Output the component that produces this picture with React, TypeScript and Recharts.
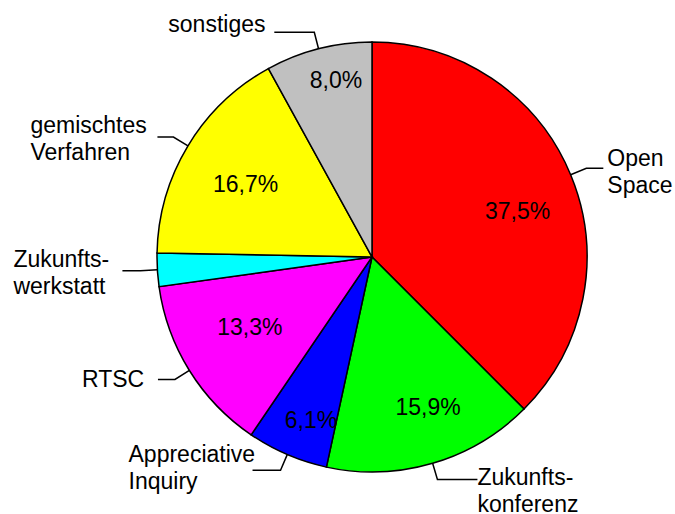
import { Cell, Pie, PieChart } from 'recharts';

const CATEGORIES = [
  'Open Space',
  'Zukunftskonferenz',
  'Appreciative Inquiry',
  'RTSC',
  'Zukunftswerkstatt',
  'gemischtes Verfahren',
  'sonstiges',
];
const NAME_LINES = [
  ['Open', 'Space'],
  ['Zukunfts-', 'konferenz'],
  ['Appreciative', 'Inquiry'],
  ['RTSC'],
  ['Zukunfts-', 'werkstatt'],
  ['gemischtes', 'Verfahren'],
  ['sonstiges'],
];
const SHARES = [37.5, 15.9, 6.1, 13.3, 2.5, 16.7, 8.0];
const COLORS = ['#ff0000', '#00ff00', '#0000ff', '#ff00ff', '#00ffff', '#ffff00', '#c0c0c0'];

// where the percent text sits: angle offset from the slice middle, fraction of the radius
const PCT_SPOT = [
  { da: -5, r: 0.71 },
  { da: 4.1, r: 0.745 },
  { da: 2.7, r: 0.81 },
  { da: -2, r: 0.655 },
  null,
  { da: 1, r: 0.68 },
  { da: -2.9, r: 0.84 },
];

// leader: horizontal run after the elbow, then offset of the text block from its end
const LEADERS = [
  { len: 17, dx: 4, dy: -2 },
  { len: 40, dx: 0, dy: 5 },
  { len: -28, dx: -124, dy: -8 },
  { len: -17, dx: -76, dy: 8 },
  { len: -18, dx: -109, dy: -4 },
  { len: -16, dx: -127, dy: -4 },
  { len: -40, dx: -106, dy: 0 },
];

const FONT = '"Liberation Sans", Arial, sans-serif';
const RAD = Math.PI / 180;

const data = CATEGORIES.map((name, i) => ({ name, value: SHARES[i] }));

const polar = (cx: number, cy: number, r: number, deg: number) => ({
  x: cx + r * Math.cos(-deg * RAD),
  y: cy + r * Math.sin(-deg * RAD),
});

function SliceLabel(props: any) {
  const { cx, cy, midAngle, outerRadius, index, value } = props;
  const spot = PCT_SPOT[index];
  const lead = LEADERS[index];
  const edge = polar(cx, cy, outerRadius, midAngle);
  const elbow = polar(cx, cy, outerRadius + 17, midAngle);
  const end = { x: elbow.x + lead.len, y: elbow.y };
  const pct = spot ? polar(cx, cy, outerRadius * spot.r, midAngle + spot.da) : null;
  return (
    <g>
      {pct && (
        <text x={pct.x} y={pct.y + 8} textAnchor="middle" fontSize={23} fontFamily={FONT} fill="#000">
          {`${value.toFixed(1).replace('.', ',')}%`}
        </text>
      )}
      <polyline
        points={`${edge.x},${edge.y} ${elbow.x},${elbow.y} ${end.x},${end.y}`}
        fill="none"
        stroke="#000"
        strokeWidth={1.5}
      />
      <text x={end.x + lead.dx} y={end.y + lead.dy} fontSize={23} fontFamily={FONT} fill="#000">
        {NAME_LINES[index].map((line, k) => (
          <tspan key={k} x={end.x + lead.dx} dy={k === 0 ? 0 : 27}>
            {line}
          </tspan>
        ))}
      </text>
    </g>
  );
}

export default function App() {
  return (
    <div style={{ width: 675, height: 514, background: '#fff' }}>
      <style>{'body{margin:0}'}</style>
      <PieChart width={675} height={514} margin={{ top: 0, right: 0, bottom: 0, left: 0 }}>
        <Pie
          data={data}
          dataKey="value"
          nameKey="name"
          cx={372}
          cy={257}
          outerRadius={215}
          startAngle={90}
          endAngle={-270}
          stroke="#000"
          strokeWidth={1.5}
          label={SliceLabel}
          labelLine={false}
          isAnimationActive={false}
        >
          {data.map((d, i) => (
            <Cell key={d.name} fill={COLORS[i]} />
          ))}
        </Pie>
      </PieChart>
    </div>
  );
}
